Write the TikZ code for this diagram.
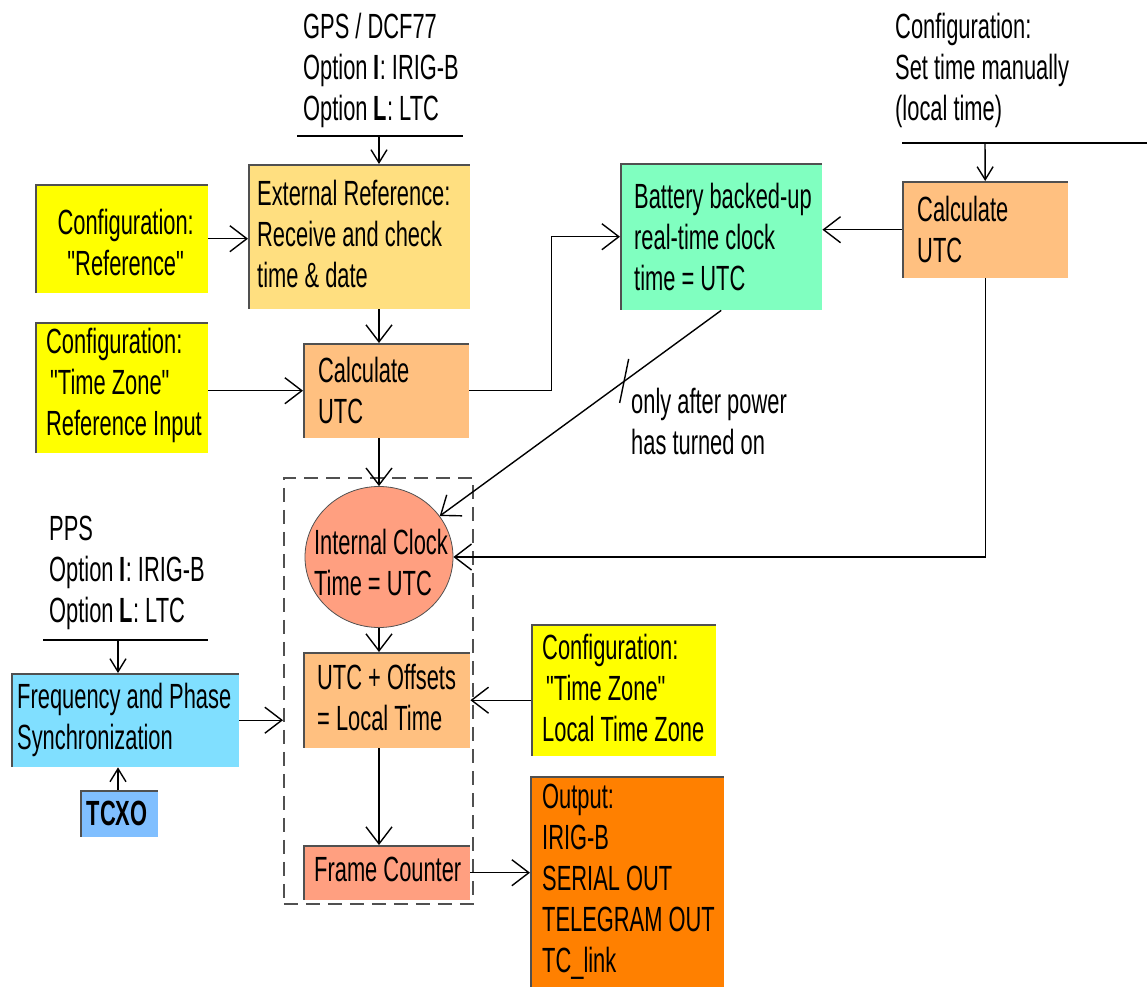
\documentclass[tikz,border=0pt]{standalone}
\usepackage{fontspec}
\setmainfont[FakeStretch=0.625, Ligatures=TeXOff]{Liberation Sans}
\usetikzlibrary{arrows.meta,shapes.geometric,calc}

\definecolor{cExt}{HTML}{FFDF80}
\definecolor{cCalc}{HTML}{FFC080}
\definecolor{cBatt}{HTML}{80FFC0}
\definecolor{cCfg}{HTML}{FFFF00}
\definecolor{cClock}{HTML}{FF9F80}
\definecolor{cFreq}{HTML}{80DFFF}
\definecolor{cTcxo}{HTML}{80BFFF}
\definecolor{cOut}{HTML}{FF8000}
\definecolor{cEdge}{HTML}{505050}

\tikzset{
  box/.style={rectangle, anchor=north west, inner sep=0pt,
    path picture={\draw[line width=3pt, draw=cEdge]
      (path picture bounding box.south west) --
      (path picture bounding box.north west) --
      (path picture bounding box.north east);}},
  lbl/.style={anchor=west, align=left, inner sep=0pt},
  ln/.style={line width=1.4pt, draw=black},
  arr/.style={ln, -{Straight Barb[length=17pt,width=26pt,line width=1.4pt]}},
  arrs/.style={ln, -{Straight Barb[length=13pt,width=16pt,line width=1.4pt]}},
  grpline/.style={draw=cEdge, line width=1.5pt, dash pattern=on 14pt off 8pt}
}

\begin{document}
\begin{tikzpicture}[x=1pt, y=-1pt, font=\fontsize{35}{41}\selectfont]
\useasboundingbox (0,0) rectangle (1147,987);

% dashed frame around the internal clock chain
\node[grpline, rectangle, anchor=north west, minimum width=189, minimum height=426] (grp) at (283,477) {};

% column of the main vertical arrows
\coordinate (col) at (379,0);

% ---- boxes ----
\node[box, fill=cExt, minimum width=222, minimum height=145] (ext) at (248,164) {};
\node[lbl, yshift=3] (extT) at ([xshift=9]ext.west) {External Reference:\\Receive and check\\time \& date};

\node[box, fill=cCfg, minimum width=173, minimum height=109] (cfgRef) at (35,184) {};
\node[align=center, inner sep=0pt] (cfgRefT) at ([xshift=4,yshift=-4]cfgRef.center) {Configuration:\\"Reference"};

\node[box, fill=cCalc, minimum width=166, minimum height=95] (calcL) at (303,343) {};
\node[lbl] (calcLT) at ([xshift=15]calcL.west) {Calculate\\UTC};

\node[box, fill=cCfg, minimum width=173, minimum height=131] (cfgTZ) at (35,322) {};
\node[lbl, yshift=2] (cfgTZT) at ([xshift=11]cfgTZ.west) {Configuration:\\\hspace*{4pt}"Time Zone"\\Reference Input};

\node[box, fill=cBatt, minimum width=202, minimum height=147] (batt) at (620,163) {};
\node[lbl] (battT) at ([xshift=14]batt.west) {Battery backed-up\\real-time clock\\time = UTC};

\node[box, fill=cCalc, minimum width=166, minimum height=97] (calcR) at (902,181) {};
\node[lbl] (calcRT) at ([xshift=15]calcR.west) {Calculate\\UTC};

\node[ellipse, fill=cClock, draw=cEdge, line width=0.8pt, minimum width=148, minimum height=141, inner sep=0pt] (clock) at (379,557) {};
\node[align=left, inner sep=0pt] (clockT) at ([xshift=2,yshift=-5]clock.center) {Internal Clock\\Time = UTC};

\node[box, fill=cCalc, minimum width=167, minimum height=96] (utcoff) at (303,652) {};
\node[lbl, yshift=3] (utcoffT) at ([xshift=14]utcoff.west) {UTC + Offsets\\= Local Time};

\node[box, fill=cCfg, minimum width=185, minimum height=132] (cfgLoc) at (531,624) {};
\node[lbl, yshift=2] (cfgLocT) at ([xshift=11]cfgLoc.west) {Configuration:\\\hspace*{4pt}"Time Zone"\\Local Time Zone};

\node[box, fill=cFreq, minimum width=228, minimum height=94] (freq) at (11,673) {};
\node[lbl] (freqT) at ([xshift=6]freq.west) {Frequency and Phase\\Synchronization};

\node[box, fill=cTcxo, minimum width=78, minimum height=47] (tcxo) at (80,790) {};
\node[inner sep=0pt] (tcxoT) at ([xshift=-2]tcxo.center) {\bfseries TCXO};

\node[box, fill=cClock, minimum width=167, minimum height=55] (frame) at (303,845) {};
\node[lbl, yshift=3] (frameT) at ([xshift=11]frame.west) {Frame Counter};

\node[box, fill=cOut, minimum width=194, minimum height=211] (out) at (530,776) {};
\node[lbl] (outT) at ([xshift=12]out.west) {Output:\\IRIG-B\\SERIAL OUT\\TELEGRAM OUT\\TC\_link};

% ---- free texts ----
\node[lbl] (gps) at (303,70) {GPS / DCF77\\Option \textbf{I}: IRIG-B\\Option \textbf{L}: LTC};
\node[lbl] (manual) at (895,70) {Configuration:\\Set time manually\\(local time)};
\node[lbl] (pps) at (49,573) {PPS\\Option \textbf{I}: IRIG-B\\Option \textbf{L}: LTC};
\node[lbl] (note) at (631,421) {only after power\\has turned on};

% ---- input bars ----
\coordinate (gpsA) at (297,136);
\coordinate (gpsB) at (463,136);
\coordinate (gpsDrop) at (379,136);
\draw[ln] (gpsA) -- (gpsB);
\draw[arrs] (gpsDrop) -- (gpsDrop |- ext.north);

\coordinate (manA) at (902,143);
\coordinate (manB) at (1147,143);
\coordinate (manDrop) at (985,143);
\draw[ln] (manA) -- (manB);
\draw[arrs] (manDrop) -- (calcR.north);

\coordinate (ppsA) at (43,640);
\coordinate (ppsB) at (208,640);
\coordinate (ppsDrop) at (118,640);
\draw[ln] (ppsA) -- (ppsB);
\draw[arrs] (ppsDrop) -- (ppsDrop |- freq.north);

% ---- connectors ----
\draw[arr] (cfgRef.east) -- (cfgRef.east -| ext.west);
\draw[arr] (col |- ext.south) -- (col |- calcL.north);
\draw[arr] (calcL.west -| cfgTZ.east) -- (calcL.west);
\draw[arr] (calcL.east) -- ++(82,0) |- (batt.west);
\draw[arr] (calcR.west) -- (calcR.west -| batt.east);
\draw[arr] (calcR.south) |- (clock.east);
\draw[arr] (batt.south) -- coordinate[pos=0.343] (tick) (clock.34);
\draw[ln] ([shift={(4,-22)}]tick) -- ([shift={(-5,22)}]tick);
\draw[arr] (col |- calcL.south) -- (clock.north);
\draw[arr] (clock.south) -- (col |- utcoff.north);
\draw[arr] (utcoff.east -| cfgLoc.west) -- (utcoff.east);
\draw[arr] (freq.east) -- (freq.east -| grp.west);
\draw[arrs] (ppsDrop |- tcxo.north) -- (ppsDrop |- freq.south);
\draw[arr] (col |- utcoff.south) -- (col |- frame.north);
\draw[arr] (frame.east) -- (frame.east -| out.west);

\end{tikzpicture}
\end{document}
